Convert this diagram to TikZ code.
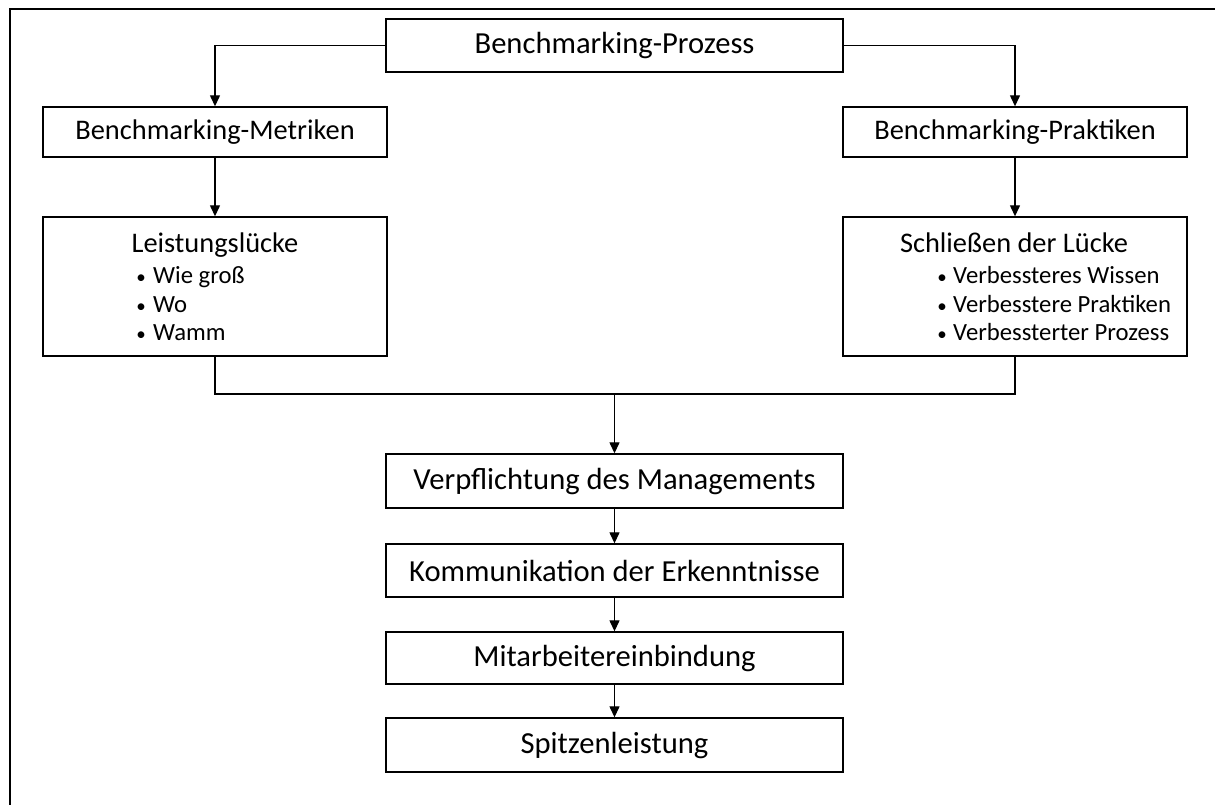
\documentclass[tikz,border=0pt]{standalone}
\usepackage{fontspec}
\setmainfont{Carlito}
\usetikzlibrary{arrows.meta}
\begin{document}
\begin{tikzpicture}[x=1pt,y=-1pt,
  box/.style={draw, line width=1.4pt, inner sep=0pt, font=\fontsize{30.6}{36}\selectfont},
  sbox/.style={box, font=\fontsize{28.4}{34}\selectfont},
  ttl/.style={anchor=base, inner sep=0pt, font=\fontsize{28.4}{34}\selectfont},
  bul/.style={anchor=base, inner sep=0pt, font=\fontsize{19}{24}\selectfont},
  itm/.style={anchor=base west, inner sep=0pt, font=\fontsize{24.7}{29}\selectfont},
  arr/.style={line width=1.3pt, -{Triangle[width=10pt,length=11pt]}},
  ln/.style={line width=1.3pt},
  frame/.style={line width=2.5pt}]
\useasboundingbox (0,0) rectangle (1215,804);
\coordinate (fbl) at (10,810);
\coordinate (ftl) at (10,9);
\coordinate (ftr) at (1220,9);
\draw[frame] (fbl) -- (ftl) -- (ftr);

\node[box, minimum width=457pt, minimum height=53pt] (p) at (614.5,45.5) {Benchmarking-Prozess};
\node[sbox, minimum width=344pt, minimum height=50pt] (m) at (215,132) {Benchmarking-Metriken};
\node[sbox, minimum width=344pt, minimum height=50pt] (pr) at (1015,132) {Benchmarking-Praktiken};
\node[box, minimum width=344pt, minimum height=139pt] (l) at (215,286.5) {};
\node[box, minimum width=344pt, minimum height=139pt] (s) at (1015,286.5) {};
\node[box, minimum width=457pt, minimum height=54pt] (v) at (614.5,481) {Verpflichtung des Managements};
\node[box, minimum width=457pt, minimum height=53pt] (k) at (614.5,570.5) {Kommunikation der Erkenntnisse};
\node[box, minimum width=457pt, minimum height=52pt] (mi) at (614.5,658) {Mitarbeitereinbindung};
\node[box, minimum width=457pt, minimum height=54pt] (sp) at (614.5,745) {Spitzenleistung};

% left box content
\node[ttl] (lt) at (215,252) {Leistungslücke};
\node[bul] (lb1) at (141,283) {•};
\node[itm] (li1) at (153,283) {Wie groß};
\node[bul] (lb2) at (141,312) {•};
\node[itm] (li2) at (153,312) {Wo};
\node[bul] (lb3) at (141,340) {•};
\node[itm] (li3) at (153,340) {Wamm};

% right box content
\node[ttl] (st) at (1014,252) {Schließen der Lücke};
\node[bul] (sb1) at (942,283) {•};
\node[itm] (si1) at (953,283) {Verbessteres Wissen};
\node[bul] (sb2) at (942,312) {•};
\node[itm] (si2) at (953,312) {Verbesstere Praktiken};
\node[bul] (sb3) at (942,340) {•};
\node[itm] (si3) at (953,340) {Verbessterter Prozess};

% connectors
\draw[arr] (p.west) -| (m.north);
\draw[arr] (p.east) -| (pr.north);
\draw[arr] (m.south) -- (l.north);
\draw[arr] (pr.south) -- (s.north);
\coordinate (j) at (614.5,394);
\draw[ln] (l.south) |- (j) -| (s.south);
\draw[arr] (j) -- (v.north);
\draw[arr] (v.south) -- (k.north);
\draw[arr] (k.south) -- (mi.north);
\draw[arr] (mi.south) -- (sp.north);
\end{tikzpicture}
\end{document}
